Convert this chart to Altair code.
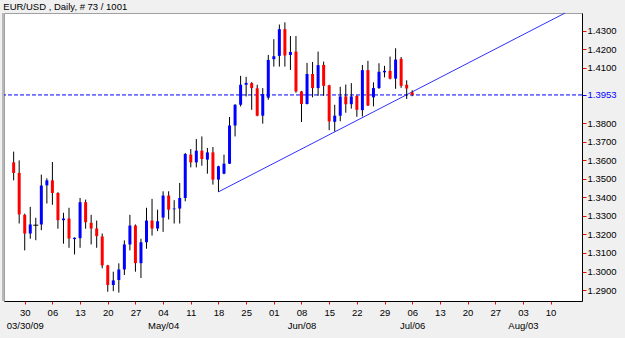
import altair as alt
import pandas as pd

title_text = "EUR/USD , Daily, # 73 / 1001"

# trading-day index (0 = Mon 30 Mar 2009); bars from Thu 26 Mar to Mon 6 Jul
bar_index = list(range(-2, 71))
opens = [1.3589, 1.3532, 1.3306, 1.3205, 1.3250, 1.3254, 1.3465, 1.3492, 1.3424, 1.3277,
         1.3286, 1.3175, 1.3180, 1.3374, 1.3263, 1.3232, 1.3189, 1.3033, 1.2927, 1.2954,
         1.3011, 1.3146, 1.3248, 1.3045, 1.3158, 1.3275, 1.3232, 1.3291, 1.3410, 1.3336,
         1.3340, 1.3397, 1.3631, 1.3589, 1.3652, 1.3604, 1.3643, 1.3496, 1.3528, 1.3582,
         1.3788, 1.3900, 1.4008, 1.4017, 1.3989, 1.3841, 1.3938, 1.4146, 1.4164, 1.4308,
         1.4169, 1.4187, 1.3972, 1.3904, 1.4066, 1.3990, 1.4115, 1.4005, 1.3808, 1.3841,
         1.3945, 1.3903, 1.3948, 1.3871, 1.4087, 1.3940, 1.3990, 1.4075, 1.4083, 1.4041,
         1.4148, 1.4008, 1.3967]
closes = [1.3532, 1.3308, 1.3205, 1.3254, 1.3250, 1.3464, 1.3492, 1.3424, 1.3277, 1.3286,
          1.3178, 1.3182, 1.3374, 1.3266, 1.3232, 1.3191, 1.3033, 1.2927, 1.2952, 1.3011,
          1.3146, 1.3248, 1.3045, 1.3158, 1.3275, 1.3232, 1.3271, 1.3410, 1.3334, 1.3340,
          1.3397, 1.3634, 1.3589, 1.3652, 1.3607, 1.3643, 1.3496, 1.3568, 1.3582, 1.3788,
          1.3900, 1.4008, 1.4018, 1.3990, 1.3841, 1.3958, 1.4142, 1.4162, 1.4308, 1.4166,
          1.4185, 1.3972, 1.3904, 1.4066, 1.3990, 1.4114, 1.4002, 1.3810, 1.3841, 1.3945,
          1.3903, 1.3945, 1.3873, 1.4087, 1.3896, 1.3990, 1.4078, 1.4083, 1.4041, 1.4144,
          1.4002, 1.3988, 1.3953]
highs = [1.3647, 1.3600, 1.3312, 1.3349, 1.3290, 1.3523, 1.3503, 1.3591, 1.3428, 1.3317,
         1.3344, 1.3184, 1.3397, 1.3388, 1.3306, 1.3275, 1.3205, 1.3036, 1.2999, 1.3044,
         1.3168, 1.3306, 1.3254, 1.3177, 1.3344, 1.3392, 1.3334, 1.3433, 1.3433, 1.3385,
         1.3478, 1.3640, 1.3661, 1.3715, 1.3729, 1.3667, 1.3672, 1.3571, 1.3631, 1.3834,
         1.3903, 1.4056, 1.4051, 1.4022, 1.4008, 1.3990, 1.4169, 1.4254, 1.4333, 1.4345,
         1.4271, 1.4271, 1.3975, 1.4126, 1.4131, 1.4187, 1.4133, 1.4008, 1.3900, 1.3997,
         1.4009, 1.4017, 1.3951, 1.4115, 1.4137, 1.4021, 1.4124, 1.4110, 1.4160, 1.4205,
         1.4158, 1.4032, 1.3978]
lows = [1.3492, 1.3259, 1.3114, 1.3177, 1.3169, 1.3223, 1.3367, 1.3360, 1.3231, 1.3150,
        1.3128, 1.3092, 1.3128, 1.3231, 1.3146, 1.3128, 1.3017, 1.2891, 1.2894, 1.2886,
        1.2981, 1.3114, 1.2999, 1.2965, 1.3123, 1.3194, 1.3218, 1.3214, 1.3281, 1.3259,
        1.3259, 1.3379, 1.3562, 1.3562, 1.3571, 1.3528, 1.3469, 1.3430, 1.3525, 1.3580,
        1.3729, 1.3891, 1.3945, 1.3873, 1.3838, 1.3798, 1.3927, 1.4106, 1.4106, 1.4106,
        1.4088, 1.3965, 1.3807, 1.3902, 1.3940, 1.3948, 1.3948, 1.3763, 1.3756, 1.3811,
        1.3857, 1.3879, 1.3835, 1.3837, 1.3893, 1.3891, 1.3986, 1.4048, 1.4037, 1.3986,
        1.3991, 1.3931, 1.3946]

bid_price = 1.3953
trend_index = [35, 97.6]
trend_price = [1.3430, 1.4395]

y_tick_values = [1.29, 1.30, 1.31, 1.32, 1.33, 1.34, 1.35, 1.36, 1.37, 1.38,
                 1.3953, 1.41, 1.42, 1.43]
x_tick_index = list(range(0, 100, 5))
day_labels = ["30", "06", "13", "20", "27", "04", "11", "18", "25", "01",
              "08", "15", "22", "29", "06", "13", "20", "27", "03", "10"]
month_index = [0, 25, 50, 70, 90]
month_labels = ["03/30/09", "May/04", "Jun/08", "Jul/06", "Aug/03"]

FONT = "Liberation Sans"
FS = 9.5

df = pd.DataFrame({"idx": bar_index, "open": opens, "high": highs,
                   "low": lows, "close": closes})
df["dir"] = ["up" if c >= o else "down" for o, c in zip(opens, closes)]

parts = []
for i, d in zip(x_tick_index, day_labels):
    if i in month_index:
        m = month_labels[month_index.index(i)]
        lab = f"['{d}', '{m}']"
    else:
        lab = f"'{d}'"
    parts.append(f"datum.value == {i} ? {lab} : ")
label_expr = "".join(parts) + "''"

x_scale = alt.Scale(domain=[-2.84, 99.77], nice=False, zero=False)
y_scale = alt.Scale(domain=[1.28408, 1.43953], nice=False, zero=False)

x_axis = alt.Axis(values=x_tick_index, labelExpr=label_expr, grid=False,
                  tickColor="#ff0000", tickSize=3, domainColor="#000000",
                  labelFont=FONT, labelFontSize=FS, labelColor="#000000",
                  labelPadding=3, labelLineHeight=13, labelFlush=False,
                  labelOverlap=False)
y_axis = alt.Axis(orient="right", values=y_tick_values, format=".4f", grid=False,
                  tickColor={"condition": {"test": "abs(datum.value - 1.3953) < 0.00001", "value": "#0000ff"}, "value": "#ff0000"},
                  labelColor={"condition": {"test": "abs(datum.value - 1.3953) < 0.00001", "value": "#0000ff"}, "value": "#000000"},
                  tickSize=4, domainColor="#000000", labelFont=FONT,
                  labelFontSize=FS, labelPadding=1, labelFlush=False,
                  labelOverlap=False)


def xe(field):
    return alt.X(f"{field}:Q", scale=x_scale, axis=x_axis, title=None)


def ye(field):
    return alt.Y(f"{field}:Q", scale=y_scale, axis=y_axis, title=None)


wicks = alt.Chart(df).mark_rule(color="#000000", strokeWidth=1).encode(
    x=xe("idx"), y=ye("low"), y2="high:Q")

bodies = alt.Chart(df).mark_bar(size=3).encode(
    x=xe("idx"), y=ye("open"), y2="close:Q",
    color=alt.Color("dir:N", scale=alt.Scale(domain=["up", "down"], range=["#0000ff", "#ff0000"]), legend=None))

doji = alt.Chart(df).transform_filter("datum.open == datum.close").mark_rule(
    color="#000000", xOffset=-2.5, x2Offset=2.5).encode(
    x=xe("idx"), x2="idx:Q", y=ye("open"))

bid = alt.Chart(pd.DataFrame({"bid": [bid_price]})).mark_rule(
    color="#0000ff", strokeDash=[4, 2], strokeWidth=1).encode(y=ye("bid"))

trend = alt.Chart(pd.DataFrame({"ti": trend_index, "tp": trend_price})).mark_line(
    color="#3030ff", strokeWidth=1).encode(x=xe("ti"), y=ye("tp"))

title = alt.Chart(pd.DataFrame({"t": [title_text]})).mark_text(
    align="left", baseline="alphabetic", font=FONT, fontSize=FS, color="#000000").encode(
    x=alt.value(-0.7), y=alt.value(-3), text="t:N")

left_border = alt.Chart(pd.DataFrame({"a": [0]})).mark_rule(color="#808080", strokeWidth=1).encode(
    x=alt.value(-1), y=alt.value(0), y2=alt.value(288))

chart = alt.layer(bid, trend, wicks, bodies, doji, left_border, title).properties(
    width=578, height=288,
    padding={"left": 4, "top": 13, "right": 43, "bottom": 37},
    autosize=alt.AutoSizeParams(type="none"),
    background="#f0f0f0",
).configure_view(fill="#ffffff", stroke="#a0a0a0", strokeWidth=1)

chart.save("out.html", embed_options={"renderer": "svg", "actions": False})
